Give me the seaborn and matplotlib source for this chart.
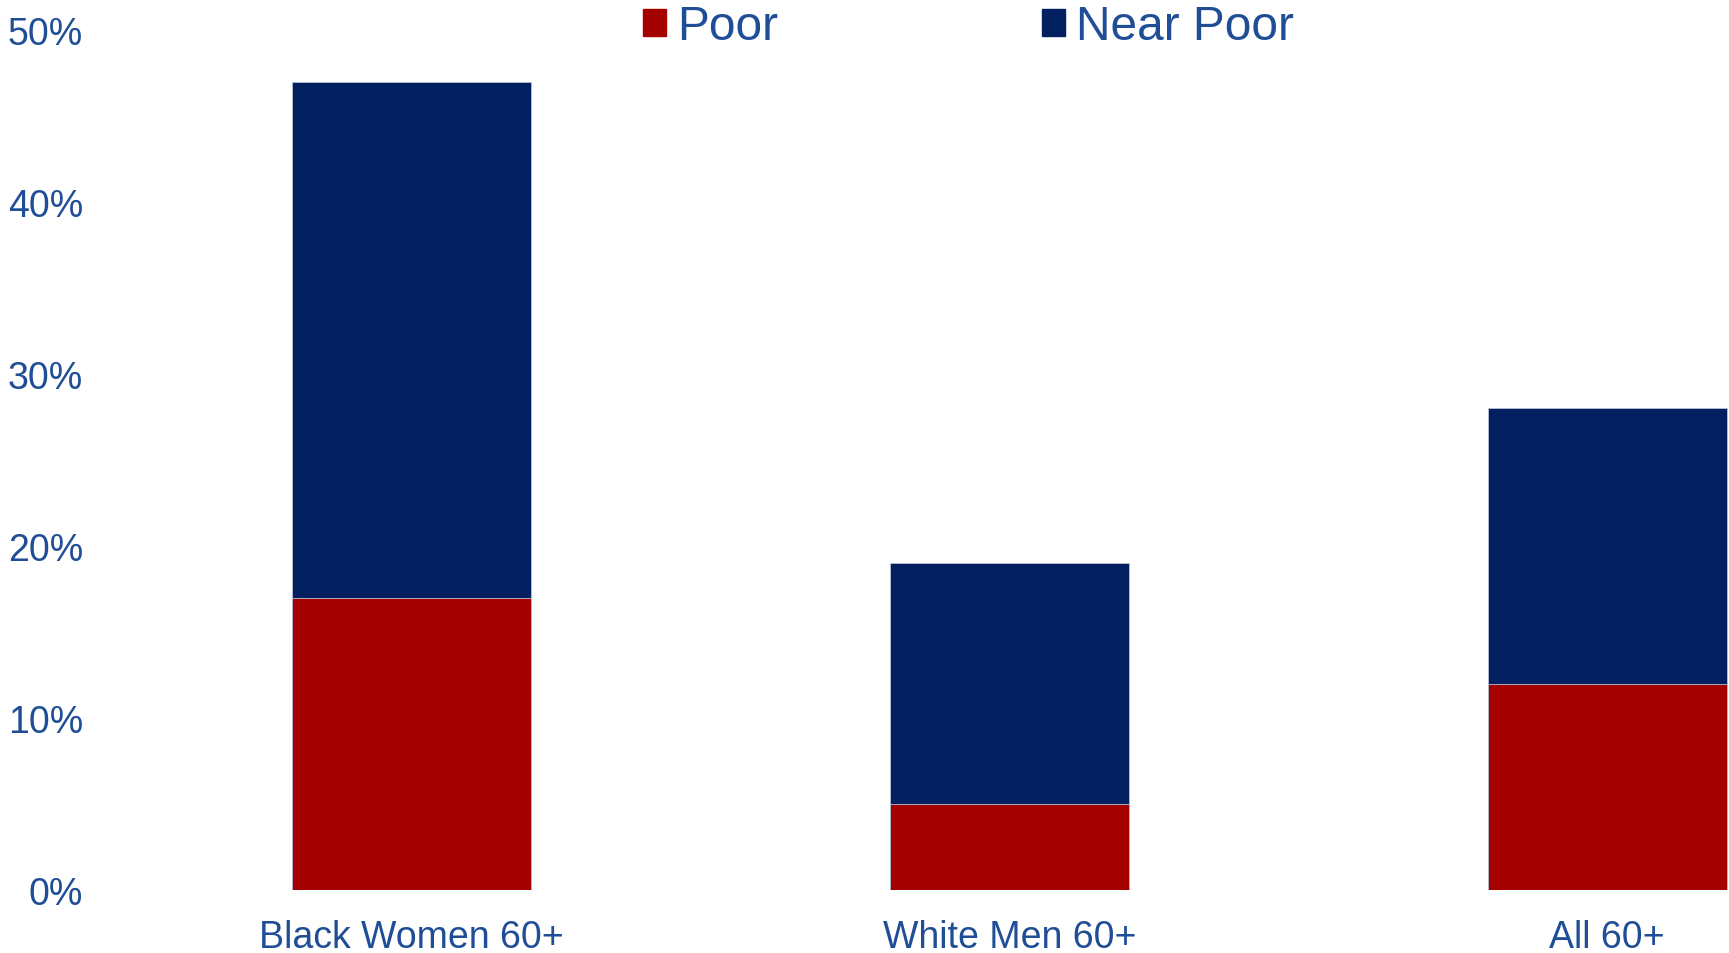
import matplotlib
matplotlib.use('Agg')
import matplotlib.pyplot as plt
import matplotlib.patches as mpatches
from matplotlib.ticker import PercentFormatter
import seaborn as sns

# Set style
sns.set_style('white')
plt.rcParams['font.family'] = ['Liberation Sans', 'DejaVu Sans']

categories = ['Black Women 60+', 'White Men 60+', 'All 60+']
poor = [0.17, 0.05, 0.12]
near_poor = [0.30, 0.14, 0.16]
series_labels = ['Poor', 'Near Poor']

red = '#A50000'
navy = '#022060'
text_blue = '#1F4E96'

totals = [p + n for p, n in zip(poor, near_poor)]

fig = plt.figure(figsize=(17.29, 9.54), dpi=100)
ax = fig.add_axes([101 / 1729, 63 / 954, 1 - 101 / 1729, (891 - 31) / 954])

# stacked: draw totals first (near poor on top), then poor over it
sns.barplot(x=categories, y=totals, color=navy, width=0.4, saturation=1,
            edgecolor='#b8c2d6', linewidth=0.6, ax=ax)
sns.barplot(x=categories, y=poor, color=red, width=0.4, saturation=1,
            edgecolor='#b8c2d6', linewidth=0.6, ax=ax)

ax.set_ylim(0, 0.5)
ax.set_yticks([0, 0.1, 0.2, 0.3, 0.4, 0.5])
ax.yaxis.set_major_formatter(PercentFormatter(1.0, decimals=0))
ax.set_xlim(-0.52, 2.204)
ax.tick_params(axis='both', length=0, labelsize=27, labelcolor=text_blue)
ax.tick_params(axis='x', pad=21)
ax.tick_params(axis='y', pad=13)
ax.set_xlabel('')
ax.set_ylabel('')
sns.despine(ax=ax, left=True, bottom=True)

handles = [mpatches.Patch(color=red, label=series_labels[0]),
           mpatches.Patch(color=navy, label=series_labels[1])]
leg = fig.legend(handles=handles, loc='center left',
                 bbox_to_anchor=(643 / 1729, 1 - 28 / 954), ncol=2,
                 frameon=False, fontsize=34.5, handlelength=0.48,
                 handleheight=0.48, handletextpad=0.23, columnspacing=5.5,
                 borderpad=0, borderaxespad=0)
for t in leg.get_texts():
    t.set_color(text_blue)

fig.savefig('out.png', dpi=100)
